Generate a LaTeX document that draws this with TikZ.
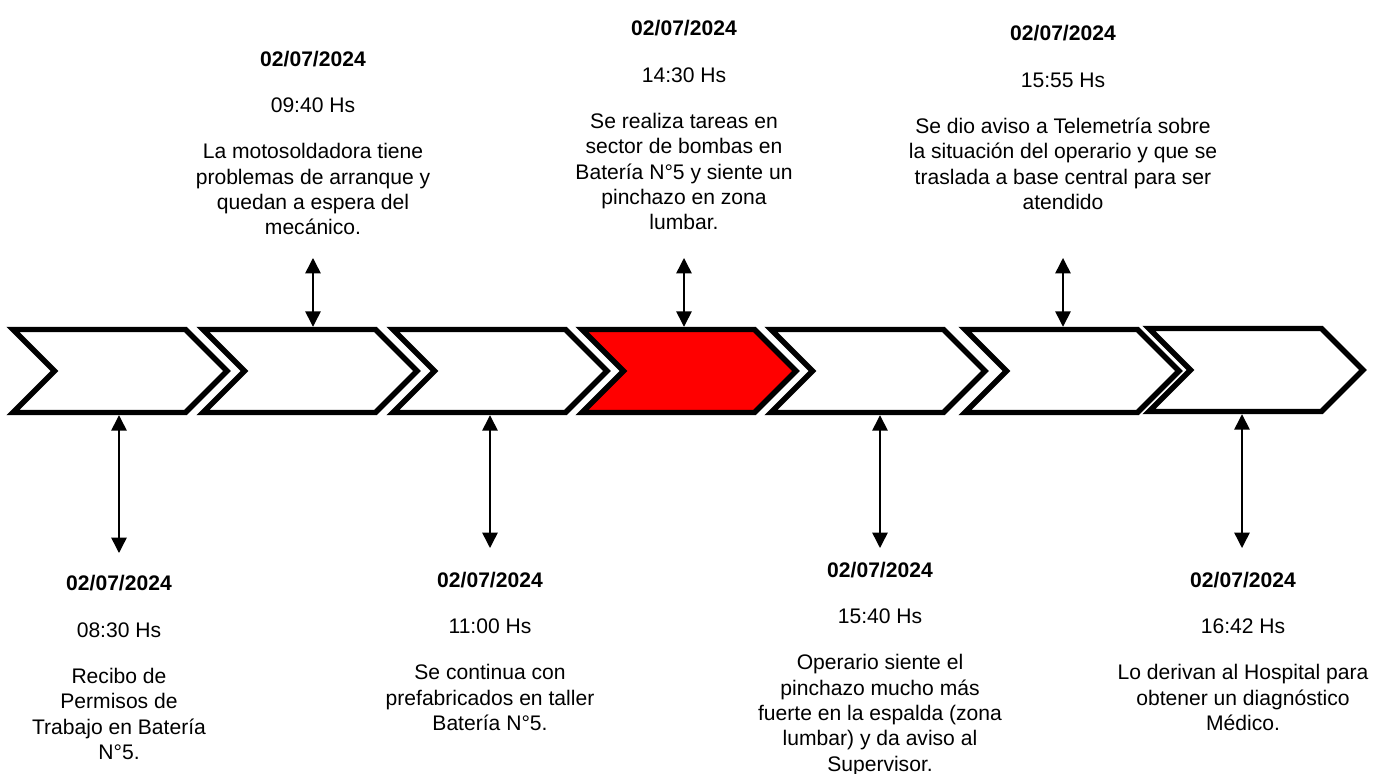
\documentclass[tikz,border=0pt]{standalone}
\usepackage{fontspec}
\setmainfont{Liberation Sans}
\usetikzlibrary{shapes.symbols,arrows.meta}

\begin{document}
\begin{tikzpicture}[>={Triangle[length=3.1mm,width=3.1mm]},
  chev/.style={signal,signal from=west,signal to=east,draw,line width=3.1pt,
    minimum width=4.28cm,minimum height=1.66cm,inner sep=0pt,fill=white},
  event/.style={align=center,inner sep=0pt,anchor=north,
    font=\fontsize{12}{14.4}\selectfont},
  link/.style={<->,line width=0.85pt}]
\useasboundingbox (0,0) rectangle (27.56,-15.48);

% the chevrons of the time line
\node[chev] (c1) at (2.40,-7.42) {};
\node[chev] (c2) at (6.20,-7.42) {};
\node[chev] (c3) at (10.00,-7.42) {};
\node[chev,fill=red] (c4) at (13.78,-7.42) {};
\node[chev] (c5) at (17.56,-7.42) {};
\node[chev] (c6) at (21.44,-7.42) {};
\node[chev] (c7) at (25.12,-7.40) {};

% events above
\node[event] (ev2) at (6.26,-1.01) {\textbf{02/07/2024}\\[12pt]09:40 Hs\\[12pt]La motosoldadora tiene\\problemas de arranque y\\quedan a espera del\\mecánico.};
\node[event] (ev4) at (13.68,-0.40) {\textbf{02/07/2024}\\[12pt]14:30 Hs\\[12pt]Se realiza tareas en\\sector de bombas en\\Batería N°5 y siente un\\pinchazo en zona\\lumbar.};
\node[event] (ev6) at (21.26,-0.50) {\textbf{02/07/2024}\\[12pt]15:55 Hs\\[12pt]Se dio aviso a Telemetría sobre\\la situación del operario y que se\\traslada a base central para ser\\atendido};

% events below
\node[event] (ev1) at (2.38,-11.50) {\textbf{02/07/2024}\\[12pt]08:30 Hs\\[12pt]Recibo de\\Permisos de\\Trabajo en Batería\\N°5.};
\node[event] (ev3) at (9.80,-11.43) {\textbf{02/07/2024}\\[12pt]11:00 Hs\\[12pt]Se continua con\\prefabricados en taller\\Batería N°5.};
\node[event] (ev5) at (17.60,-11.23) {\textbf{02/07/2024}\\[12pt]15:40 Hs\\[12pt]Operario siente el\\pinchazo mucho más\\fuerte en la espalda (zona\\lumbar) y da aviso al\\Supervisor.};
\node[event] (ev7) at (24.86,-11.43) {\textbf{02/07/2024}\\[12pt]16:42 Hs\\[12pt]Lo derivan al Hospital para\\obtener un diagnóstico\\Médico.};

\coordinate (a1) at (2.38,-11.06);
\coordinate (a2) at (6.26,-5.16);
\coordinate (a3) at (9.80,-10.96);
\coordinate (a4) at (13.68,-5.16);
\coordinate (a5) at (17.60,-10.96);
\coordinate (a6) at (21.26,-5.16);
\coordinate (a7) at (24.84,-10.96);

\draw [link] (a2) -- (a2 |- c2.north);
\draw [link] (a4) -- (a4 |- c4.north);
\draw [link] (a6) -- (a6 |- c6.north);
\draw [link] (a1 |- c1.south) -- (a1);
\draw [link] (a3 |- c3.south) -- (a3);
\draw [link] (a5 |- c5.south) -- (a5);
\draw [link] (a7 |- c7.south) -- (a7);

\end{tikzpicture}
\end{document}
